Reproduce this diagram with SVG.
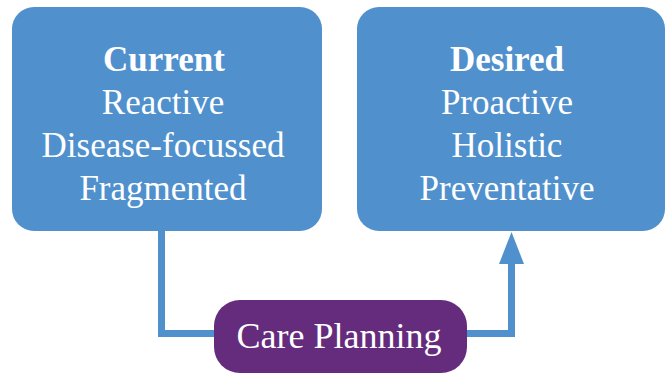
<svg xmlns="http://www.w3.org/2000/svg" width="670" height="374" viewBox="0 0 670 374">
<style>
.box{fill:#5091CD;}
.pill{fill:#652C7D;}
.t{font-family:"Liberation Serif","Times New Roman",serif;font-size:35px;fill:#ffffff;text-anchor:middle;}
.b{font-weight:bold;}
.cp{font-size:36px;}
.conn{fill:none;stroke:#5091CD;stroke-width:7;}
.head{fill:#5091CD;}
</style>
<g id="connectors">
<path class="conn" d="M161.5,231 V333.5 H230"/>
<path class="conn" d="M450,333.5 H511.5 V258"/>
<polygon class="head" points="511.5,232 499,264 524,264"/>
</g>
<g id="current">
<rect class="box" x="12" y="7" width="310" height="224" rx="22"/>
<text class="t b" x="164" y="71">Current</text>
<text class="t" x="163" y="114">Reactive</text>
<text class="t" x="163" y="157">Disease-focussed</text>
<text class="t" x="163" y="200">Fragmented</text>
</g>
<g id="desired">
<rect class="box" x="357" y="7" width="308" height="224" rx="22"/>
<text class="t b" x="507" y="71">Desired</text>
<text class="t" x="507" y="114">Proactive</text>
<text class="t" x="507" y="157">Holistic</text>
<text class="t" x="507" y="200">Preventative</text>
</g>
<g id="care-planning">
<rect class="pill" x="214" y="300" width="253" height="73" rx="26"/>
<text class="t cp" x="339" y="348">Care Planning</text>
</g>
</svg>
